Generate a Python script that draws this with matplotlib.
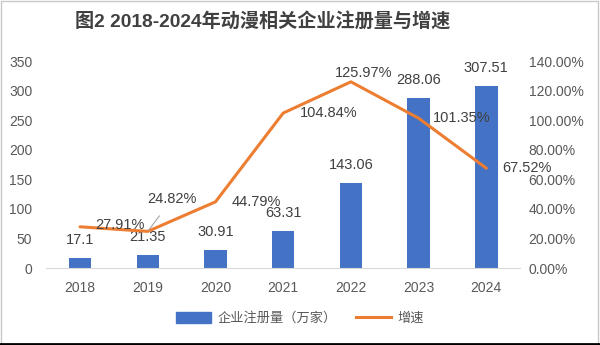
import matplotlib
matplotlib.use("Agg")
import matplotlib.pyplot as plt
from matplotlib.lines import Line2D
from matplotlib.patches import Rectangle
from matplotlib.ticker import FuncFormatter

plt.rcParams['font.family'] = ['Liberation Sans', 'Noto Sans CJK SC', 'DejaVu Sans']

# data
years = ['2018', '2019', '2020', '2021', '2022', '2023', '2024']
registrations = [17.1, 21.35, 30.91, 63.31, 143.06, 288.06, 307.51]
growth = [27.91, 24.82, 44.79, 104.84, 125.97, 101.35, 67.52]

BLUE = '#4472C4'
ORANGE = '#ED7D31'
TXT = '#404040'
TICK = '#595959'

fig = plt.figure(figsize=(6, 3.45), dpi=100)
ax = fig.add_axes([0.077, 0.223, 0.79, 0.6])
ax2 = ax.twinx()

x = list(range(len(years)))
ax.bar(x, registrations, width=0.33, color=BLUE, zorder=2)
ax2.plot(x, [g / 100 for g in growth], color=ORANGE, lw=2.2, zorder=3,
         solid_joinstyle='round', solid_capstyle='round')

ax.set_xlim(-0.5, len(years) - 0.5)
ax.set_ylim(0, 350)
ax.set_yticks(range(0, 351, 50))
ax2.set_ylim(0, 1.4)
ax2.set_yticks([i * 0.2 for i in range(8)])
ax2.yaxis.set_major_formatter(FuncFormatter(lambda v, p: f'{v * 100:.2f}%'))
ax.set_xticks(x)
ax.set_xticklabels(years)

for a in (ax, ax2):
    for s in a.spines.values():
        s.set_visible(False)
    a.tick_params(length=0, labelsize=10, colors=TICK)
ax.spines['bottom'].set_visible(True)
ax.spines['bottom'].set_color('#D9D9D9')
ax.tick_params(axis='x', pad=9)
ax.tick_params(axis='y', pad=10)
ax2.tick_params(axis='y', pad=6)

# bar labels
for i, v in enumerate(registrations):
    ax.annotate(f'{v:g}', (i, v), xytext=(0, 18), textcoords='offset pixels',
                ha='center', va='center', fontsize=10.5, color=TXT, zorder=4)

# growth labels (offsets in pixels)
line_off = [(15, 2, 'left'), (24, 32, 'center'), (16, 0, 'left'), (17, 0, 'left'),
            (-16, 9, 'left'), (14, 0, 'left'), (16, 0, 'left')]
for i, g in enumerate(growth):
    dx, dy, ha = line_off[i]
    kw = {}
    if i == 1:
        kw['arrowprops'] = dict(arrowstyle='-', color='#A6A6A6', lw=0.8,
                                shrinkA=6, shrinkB=1)
    ax2.annotate(f'{g:.2f}%', (i, g / 100), xytext=(dx, dy), textcoords='offset pixels',
                 ha=ha, va='center', fontsize=10.5, color=TXT, zorder=5, **kw)

fig.text(0.437, 0.935, '图2 2018-2024年动漫相关企业注册量与增速', ha='center', va='center',
         fontsize=13.8, fontweight='bold', color=TXT,
         family=['Liberation Sans', 'Noto Sans CJK SC'])

handles = [Rectangle((0, 0), 1, 1, color=BLUE), Line2D([], [], color=ORANGE, lw=2.2)]
fig.legend(handles, ['企业注册量（万家）', '增速'], loc='center', bbox_to_anchor=(0.5, 0.078),
           ncol=2, frameon=False, labelcolor=TICK, handlelength=2.6,
           handleheight=0.9, columnspacing=1.5, handletextpad=0.5,
           prop={'family': ['Noto Sans CJK SC'], 'size': 9.5})

# frame of the picture
fig.patches.append(Rectangle((0.002, 0.004), 0.995, 0.993, transform=fig.transFigure,
                             fill=False, ec='#C8C8C8', lw=1))
fig.lines.append(Line2D([0, 1], [0.003, 0.003], transform=fig.transFigure, color='black', lw=2))

fig.savefig('out.png', dpi=100, facecolor='white')
